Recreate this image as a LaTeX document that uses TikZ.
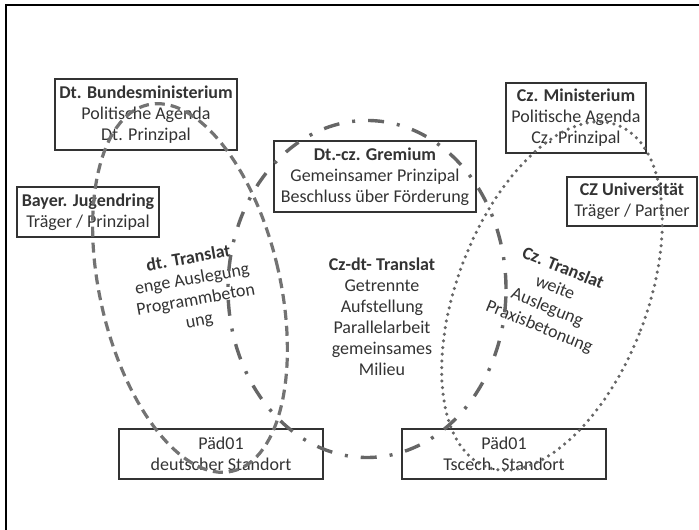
\documentclass[tikz,border=0pt]{standalone}
\usepackage{fontspec}
\setmainfont{Carlito}
\newcommand\dgfs{\fontsize{18}{21}\selectfont}
\begin{document}
\begin{tikzpicture}[x=1pt,y=1pt,
  box/.style={draw=black!80, line width=1.4pt, inner sep=0pt, align=center, text=black!80, font=\dgfs},
  txt/.style={inner sep=0pt, align=center, text=black!80, font=\dgfs},
  dashline/.style={draw=black!55, line width=3.2pt, dash pattern=on 10pt off 6pt},
  dashdotline/.style={draw=black!60, line width=3.4pt, dash pattern=on 16pt off 13pt on 3pt off 13pt},
  dotline/.style={draw=black!60, line width=3.5pt, line cap=round, dash pattern=on 0pt off 6.7pt}]
\useasboundingbox (0,0) rectangle (699,530);
% frame
\draw[line width=2pt] (6,0) -- (6,525) -- (699,525);
% boxes
\node[box, minimum width=182pt, minimum height=71pt] (bm) at (146,415.5)
  {\textbf{Dt. Bundesministerium}\\Politische Agenda\\Dt. Prinzipal};
\node[box, minimum width=142pt, minimum height=50pt] (bj) at (88,318)
  {\textbf{Bayer. Jugendring}\\Träger / Prinzipal};
\node[box, minimum width=202pt, minimum height=71pt] (gr) at (375,353.5)
  {\textbf{Dt.-cz. Gremium}\\Gemeinsamer Prinzipal\\Beschluss über Förderung};
\node[box, minimum width=140pt, minimum height=70pt] (cm) at (576,412)
  {\textbf{Cz. Ministerium}\\Politische Agenda\\Cz. Prinzipal};
\node[box, minimum width=130pt, minimum height=49pt] (cu) at (632,328.5)
  {\textbf{CZ Universität}\\Träger / Partner};
\node[box, minimum width=204pt, minimum height=50pt] (p1) at (221,76)
  {Päd01\\deutscher Standort};
\node[box, minimum width=204pt, minimum height=50pt] (p2) at (504,76)
  {Päd01\\Tscech. Standort};
% texts in the ellipses
\node[txt, rotate=10] (dtt) at (194,240)
  {\textbf{dt. Translat}\\enge Auslegung\\Programmbeton\\ung};
\node[txt] (czdt) at (382,213.5)
  {\textbf{Cz-dt- Translat}\\Getrennte\\Aufstellung\\Parallelarbeit\\gemeinsames\\Milieu};
\node[txt, rotate=-22] (czt) at (551,232)
  {\textbf{Cz. Translat}\\weite\\Auslegung\\Praxisbetonung};
% ellipses
\draw[dashline, rotate around={13:(190,242)}] (190,242) ellipse [x radius=90pt, y radius=188pt];
\draw[dashdotline] (367,241) ellipse [x radius=139pt, y radius=168.5pt];
\draw[dotline, rotate around={-21:(552,234)}] (552,234) ellipse [x radius=95pt, y radius=183pt];
\end{tikzpicture}
\end{document}
